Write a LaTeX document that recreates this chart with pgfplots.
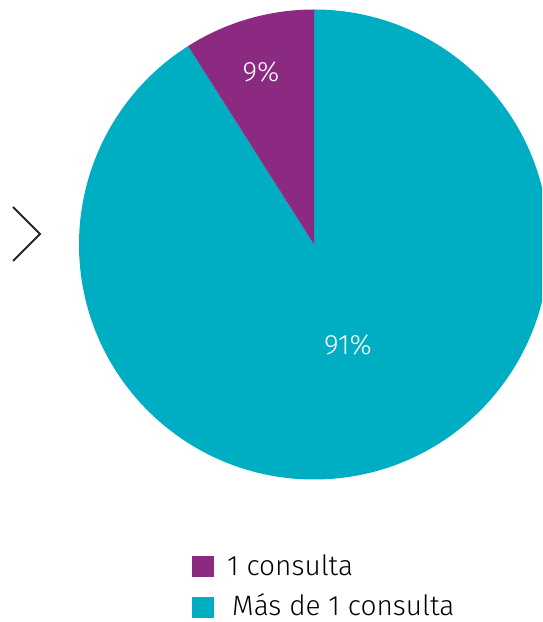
\documentclass[border=0pt]{standalone}
\usepackage{fontspec}
\setmainfont{Fira Sans Light}
\usepackage{pgfplots}
\usepackage{pgfplotstable}
\pgfplotsset{compat=1.18}
\definecolor{cpurple}{HTML}{8B2A80}
\definecolor{cteal}{HTML}{00AEC3}
\pgfplotstableread{
label value
uno 9
mas 91
}\piedata
\pgfplotstablegetelem{0}{value}\of\piedata \let\va\pgfplotsretval
\pgfplotstablegetelem{1}{value}\of\piedata \let\vb\pgfplotsretval
\pgfmathsetmacro{\angA}{90+3.6*\va}
\begin{document}
\begin{tikzpicture}
\begin{axis}[width=542pt,height=622pt,scale only axis,
  xmin=0,xmax=542,ymin=0,ymax=622,axis lines=none,clip=true]
\fill[cteal] (axis cs:314,377.5) -- (axis cs:314,612.5) arc[start angle=90,end angle=\angA-360,radius=235pt] -- cycle;
\fill[cpurple] (axis cs:314,377.5) -- (axis cs:314,612.5) arc[start angle=90,end angle=\angA,radius=235pt] -- cycle;
\node[white,font=\fontsize{28}{32}\selectfont] at (axis cs:261,550) {\va\%};
\node[white,font=\fontsize{28}{32}\selectfont] at (axis cs:348,277) {\vb\%};
\draw[line width=2pt,color=black!85,line join=miter] (axis cs:13,415) -- (axis cs:40,388) -- (axis cs:13,361);
\fill[cpurple] (axis cs:192,45) rectangle (axis cs:214,66);
\fill[cteal] (axis cs:192,4) rectangle (axis cs:214,25);
\node[anchor=base west,inner sep=0pt,font=\fontsize{28}{32}\selectfont] at (axis cs:227,46) {1 consulta};
\node[anchor=base west,inner sep=0pt,font=\fontsize{28}{32}\selectfont] at (axis cs:232,6) {Más de 1 consulta};
\end{axis}
\pgfresetboundingbox
\useasboundingbox (0,0) rectangle (542pt,622pt);
\end{tikzpicture}
\end{document}
